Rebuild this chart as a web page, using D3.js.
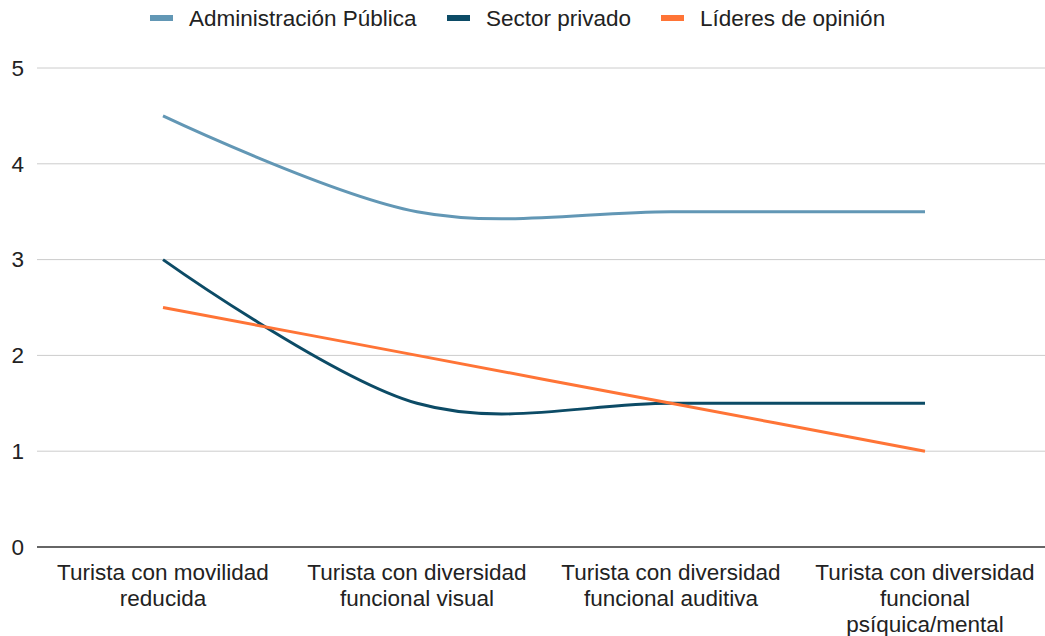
<!DOCTYPE html>
<html>
<head>
<meta charset="utf-8">
<script src="https://cdn.jsdelivr.net/npm/d3@7"></script>
<style>
  body { margin: 0; background: #fff; }
  svg { font-family: "Liberation Sans", Arial, sans-serif; }
</style>
</head>
<body>
<svg id="chart" width="1045" height="636"></svg>
<script>
// Data
var categories = [
  ["Turista con movilidad", "reducida"],
  ["Turista con diversidad", "funcional visual"],
  ["Turista con diversidad", "funcional auditiva"],
  ["Turista con diversidad", "funcional", "psíquica/mental"]
];
var seriesNames = ["Administración Pública", "Sector privado", "Líderes de opinión"];
var adminValues = [4.5, 3.5, 3.5, 3.5];
var privadoValues = [3, 1.5, 1.5, 1.5];
var lideresValues = [2.5, 2, 1.5, 1];
var yTicks = [0, 1, 2, 3, 4, 5];
var colors = ["#6297b5", "#0c4b66", "#ff7436"];

var series = [adminValues, privadoValues, lideresValues];

var svg = d3.select("#chart");

var x = d3.scalePoint()
  .domain(d3.range(categories.length))
  .range([36, 1052])
  .padding(0.5);

var y = d3.scaleLinear()
  .domain([0, 5])
  .range([547, 68]);

// Gridlines
svg.append("g").selectAll("line")
  .data(yTicks.filter(function(d) { return d > 0; }))
  .enter().append("line")
    .attr("x1", 37).attr("x2", 1052)
    .attr("y1", function(d) { return y(d); })
    .attr("y2", function(d) { return y(d); })
    .attr("stroke", "#cccccc")
    .attr("stroke-width", 1);

// Y labels
svg.append("g").selectAll("text")
  .data(yTicks)
  .enter().append("text")
    .attr("x", 24)
    .attr("y", function(d) { return y(d); })
    .attr("dy", "0.35em")
    .attr("text-anchor", "end")
    .attr("font-size", 22.5)
    .attr("fill", "#222")
    .text(function(d) { return d; });

// Lines
var line = d3.line()
  .x(function(d, i) { return x(i); })
  .y(function(d) { return y(d); })
  .curve(d3.curveCardinal.tension(0));

svg.append("g").selectAll("path")
  .data(series)
  .enter().append("path")
    .attr("d", line)
    .attr("fill", "none")
    .attr("stroke", function(d, i) { return colors[i]; })
    .attr("stroke-width", 3);

// Baseline
svg.append("line")
  .attr("x1", 37).attr("x2", 1052)
  .attr("y1", y(0)).attr("y2", y(0))
  .attr("stroke", "#333")
  .attr("stroke-width", 1.5);

// X labels
var xl = svg.append("g").selectAll("text")
  .data(categories)
  .enter().append("text")
    .attr("x", function(d, i) { return x(i); })
    .attr("y", 580)
    .attr("text-anchor", "middle")
    .attr("font-size", 22.5)
    .attr("fill", "#222");

xl.selectAll("tspan")
  .data(function(d) { return d; })
  .enter().append("tspan")
    .attr("x", function() { return d3.select(this.parentNode).attr("x"); })
    .attr("dy", function(d, i) { return i == 0 ? 0 : 26; })
    .text(function(d) { return d; });

// Legend
var legendX = [150, 447, 661];
var lg = svg.append("g").selectAll("g")
  .data(seriesNames)
  .enter().append("g")
    .attr("transform", function(d, i) { return "translate(" + legendX[i] + ",18)"; });

lg.append("rect")
  .attr("x", 0).attr("y", -3)
  .attr("width", 23).attr("height", 6)
  .attr("fill", function(d, i) { return colors[i]; });

lg.append("text")
  .attr("x", 39)
  .attr("dy", "0.35em")
  .attr("font-size", 22.5)
  .attr("fill", "#222")
  .text(function(d) { return d; });
</script>
</body>
</html>
